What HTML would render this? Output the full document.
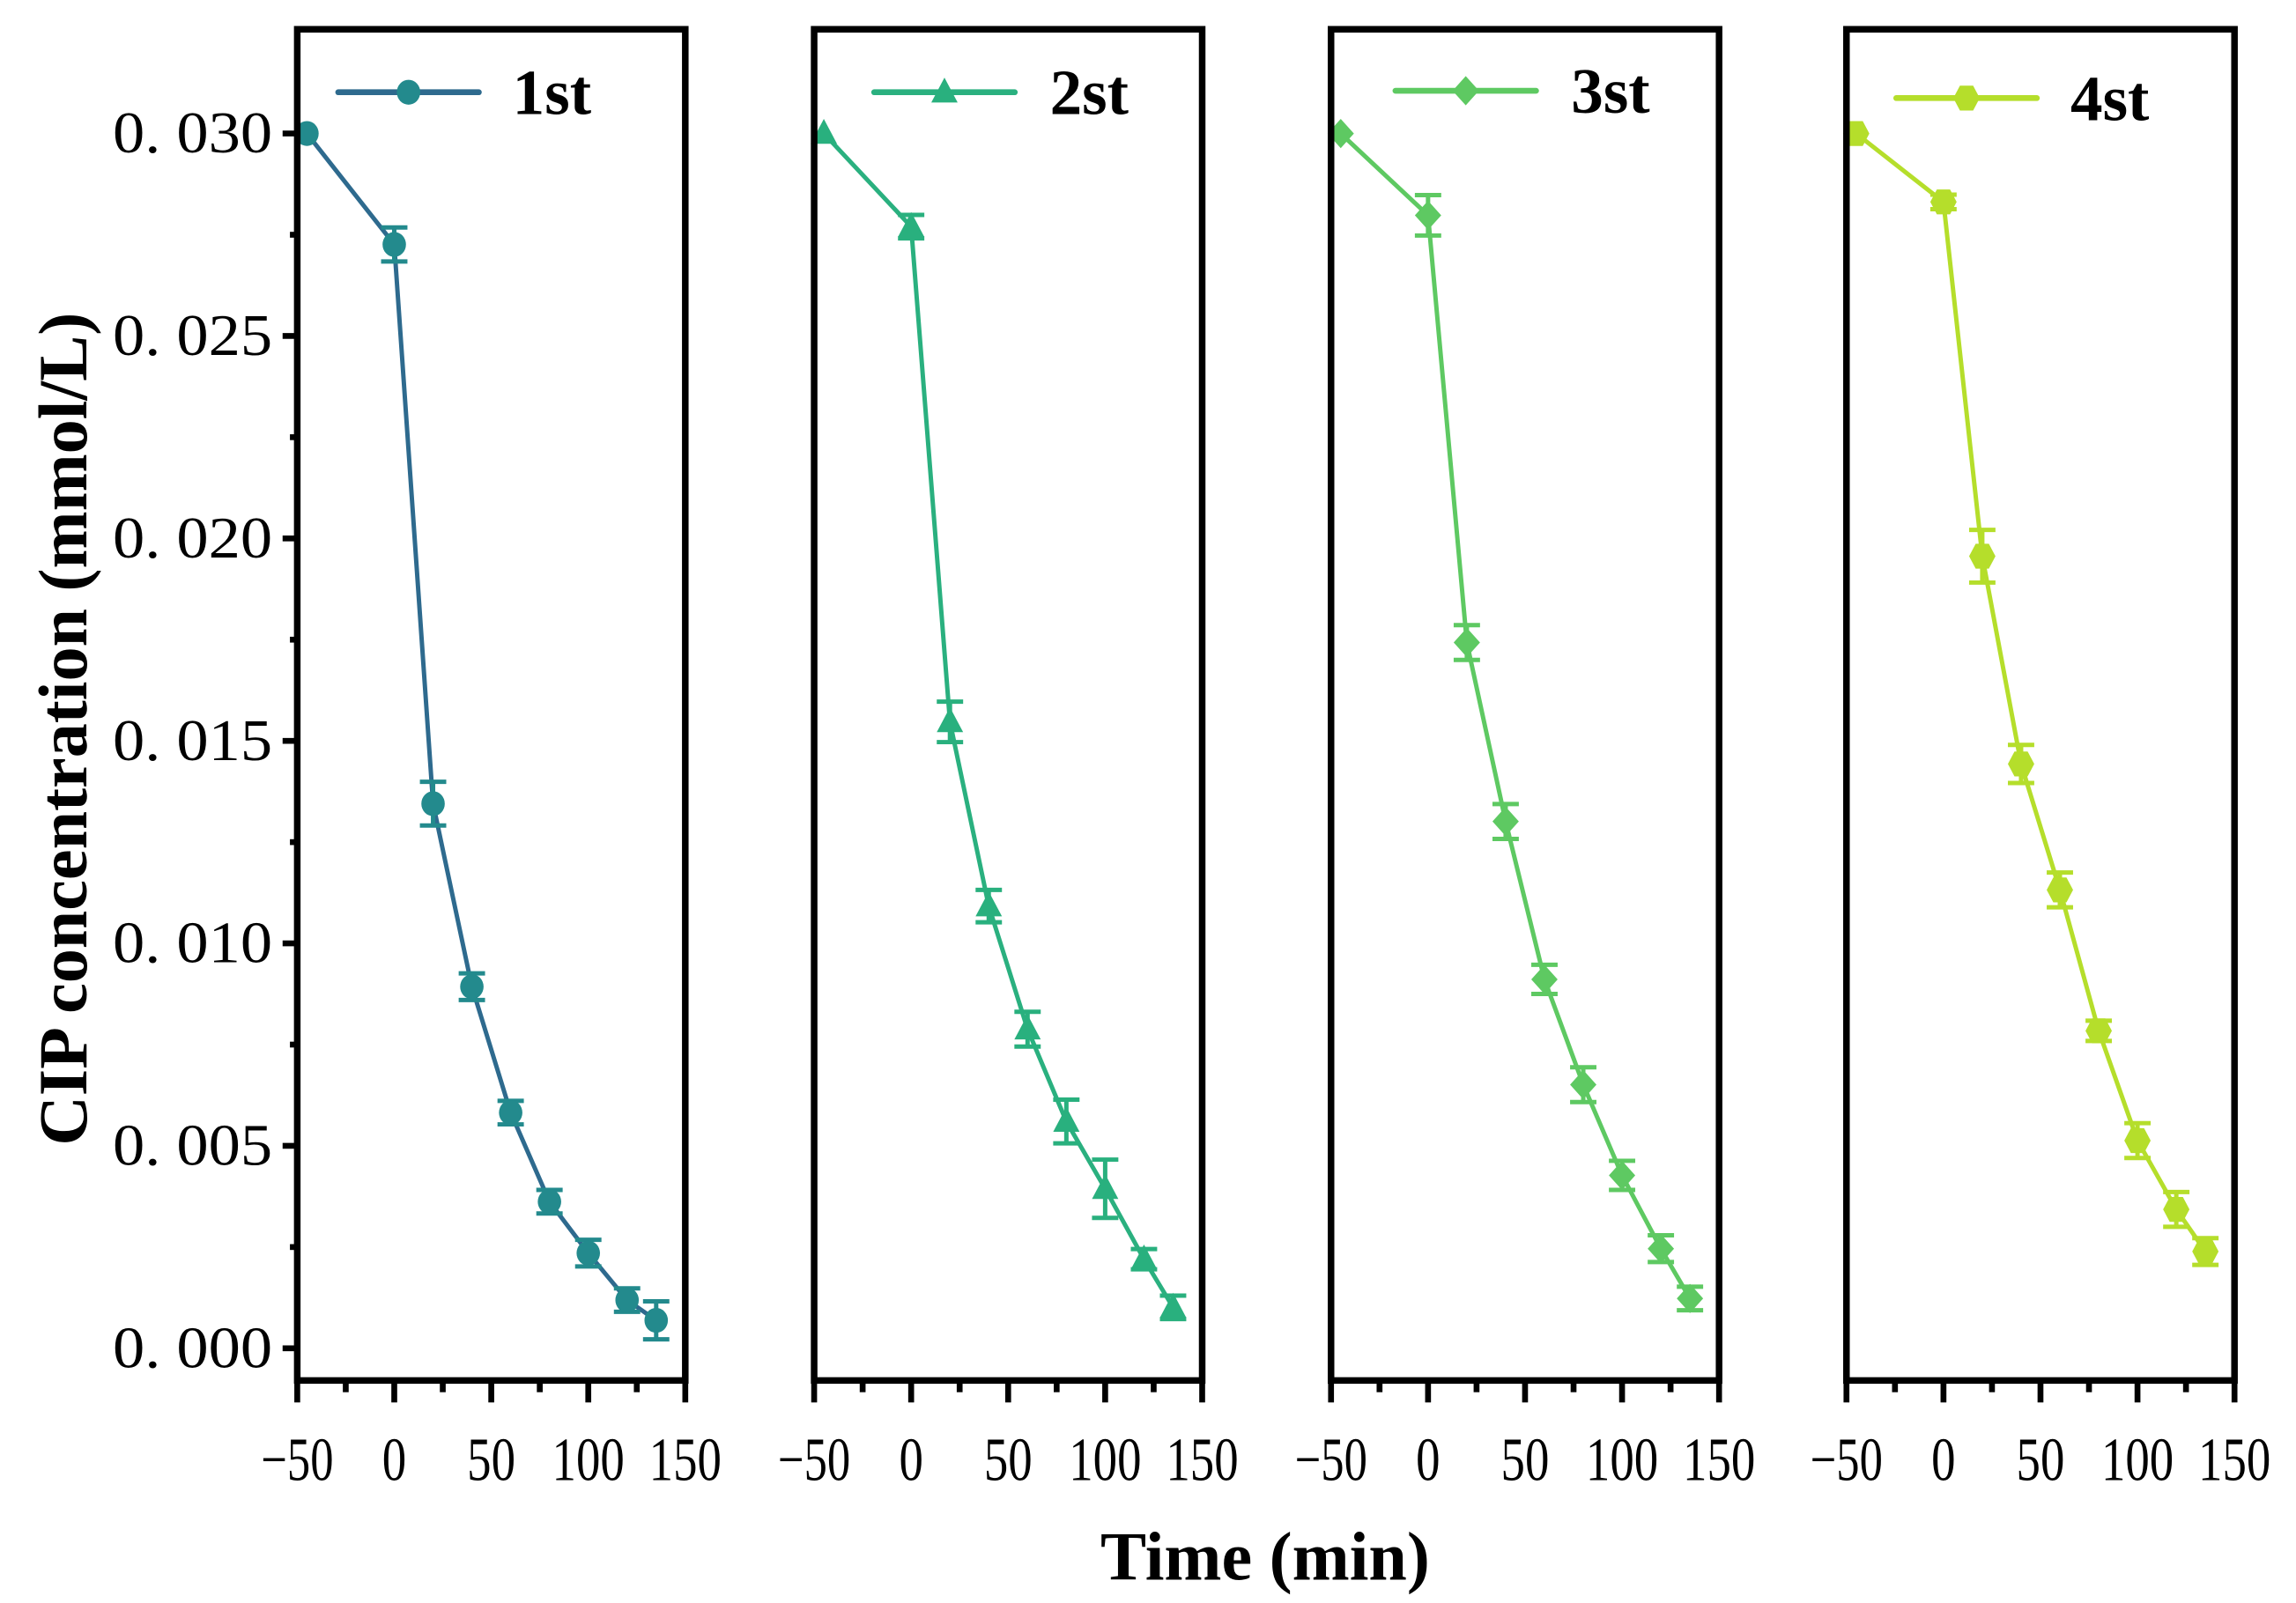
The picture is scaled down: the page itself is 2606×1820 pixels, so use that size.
<!DOCTYPE html>
<html><head><meta charset="utf-8"><style>
html,body{margin:0;padding:0;background:#fff}
svg{display:block}
</style></head><body>
<svg id="chart" width="2606" height="1820" viewBox="0 0 1568 1095" preserveAspectRatio="none" xmlns="http://www.w3.org/2000/svg">
<text transform="translate(59,498) rotate(-90)" text-anchor="middle" font-family="Liberation Serif, serif" font-weight="bold" font-size="47">CIP concentration (mmol/L)</text>
<text x="864" y="1079" text-anchor="middle" font-family="Liberation Serif, serif" font-weight="bold" font-size="47">Time (min)</text>
<g id="plots"></g>
</svg>
<script>
const times = [-45, 0, 20, 40, 60, 80, 100, 120, 135];
const labels = ["1st", "2st", "3st", "4st"];
const series1 = [0.030, 0.02726, 0.01345, 0.00893, 0.00582, 0.00362, 0.00235, 0.00119, 0.00069];
const series2 = [0.030, 0.0277, 0.01547, 0.01092, 0.00788, 0.0056, 0.00394, 0.0022, 0.00101];
const series3 = [0.030, 0.02798, 0.01743, 0.01301, 0.00911, 0.00651, 0.00427, 0.00246, 0.00123];
const series4 = [0.030, 0.02831, 0.01956, 0.01443, 0.01132, 0.00784, 0.00513, 0.00343, 0.00239];
const err1 = [0, 0.00042, 0.00054, 0.00033, 0.00029, 0.00029, 0.00033, 0.00029, 0.00047];
const err2 = [0, 0.00029, 0.0005, 0.0004, 0.00043, 0.00054, 0.00072, 0.00025, 0.00029];
const err3 = [0, 0.0005, 0.00043, 0.00043, 0.00036, 0.00043, 0.00036, 0.00033, 0.00029];
const err4 = [0, 0.00018, 0.00065, 0.00047, 0.00043, 0.00025, 0.00043, 0.00043, 0.00033];
const yTicks = [0, 0.005, 0.010, 0.015, 0.020, 0.025, 0.030];
const yTickLabels = ["0. 000","0. 005","0. 010","0. 015","0. 020","0. 025","0. 030"];
const xTicks = [-50, 0, 50, 100, 150];
const xTickLabels = ["\u221250","0","50","100","150"];

const allSeries = [series1, series2, series3, series4];
const allErr = [err1, err2, err3, err4];
const lineColors = ["#2e6a8e", "#2ab07f", "#5ec962", "#b5de2b"];
const markColors = ["#238a8d", "#29b07e", "#5ec962", "#b5de2b"];
const markers = ["circle", "triangle", "diamond", "hexagon"];
const panelLeft = [203, 556, 909, 1261];
const panelW = 265, topY = 20, bottomY = 943;
const legendY = [63, 63, 62, 67];
const legendLineOff = [28, 41, 44, 34];
const legendTextOff = [147, 161, 164, 153];
const NS = "http://www.w3.org/2000/svg";
const plotsG = document.getElementById("plots");

function yScale(v){ return 921 - v / 0.005 * 138.3; }
function mk(tag, attrs, parent){ const e = document.createElementNS(NS, tag); for (const k in attrs) e.setAttribute(k, attrs[k]); (parent||plotsG).appendChild(e); return e; }
function marker(type, cx, cy, color, parent){
  let e;
  if (type === "circle") e = mk("ellipse", {cx, cy, rx:8, ry:8.5, fill:color}, parent);
  else if (type === "triangle") e = mk("polygon", {points:`${cx},${cy-10} ${cx+9},${cy+7} ${cx-9},${cy+7}`, fill:color}, parent);
  else if (type === "diamond") e = mk("polygon", {points:`${cx},${cy-10} ${cx+9},${cy} ${cx},${cy+10} ${cx-9},${cy}`, fill:color}, parent);
  else e = mk("polygon", {points:`${cx-4.5},${cy-8.5} ${cx+4.5},${cy-8.5} ${cx+9},${cy} ${cx+4.5},${cy+8.5} ${cx-4.5},${cy+8.5} ${cx-9},${cy}`, fill:color}, parent);
  return e;
}

allSeries.forEach((s, p) => {
  const L = panelLeft[p];
  const xScale = t => L + (t + 50) / 200 * panelW;
  const pg = mk("g", {});
  
  
  for (let t = -50; t <= 150; t += 25) {
    const major = t % 50 === 0;
    const tk = mk("line", {x1:xScale(t), x2:xScale(t), y1:bottomY, y2:bottomY + (major?15:8), stroke:"#000", "stroke-width":4}, pg);
    
    
  }
  xTicks.forEach((t, i) => {
    const tx = mk("text", {x:xScale(t), y:1011, "text-anchor":"middle", "font-family":"Liberation Serif, serif", "font-size":42, textLength: xTickLabels[i].length*16.5, lengthAdjust:"spacingAndGlyphs"}, pg);
    tx.textContent = xTickLabels[i];
    
    
  });
  if (p === 0) {
    for (let k = 0; k <= 12; k++) {
      const v = k * 0.0025;
      const major = k % 2 === 0;
      const tk = mk("line", {x1:L - (major?10:5), x2:L, y1:yScale(v), y2:yScale(v), stroke:"#000", "stroke-width":4}, pg);
      
      
    }
    yTicks.forEach((v, i) => {
      const tx = mk("text", {x:186, y:yScale(v)+13, "text-anchor":"end", "font-family":"Liberation Serif, serif", "font-size":40, textLength:109, lengthAdjust:"spacingAndGlyphs"}, pg);
      tx.textContent = yTickLabels[i];
      
      
    });
  }
  const pts = times.map((t, i) => xScale(t) + "," + yScale(s[i])).join(" ");
  const ln = mk("polyline", {points:pts, fill:"none", stroke:lineColors[p], "stroke-width":3}, pg);
  
  
  times.forEach((t, i) => {
    const cx = xScale(t), e = allErr[p][i];
    if (e > 0) {
      const y1 = yScale(s[i] + e), y2 = yScale(s[i] - e);
      const eb = mk("path", {d:`M${cx},${y1}V${y2}M${cx-9},${y1}H${cx+9}M${cx-9},${y2}H${cx+9}`, stroke:markColors[p], "stroke-width":3, fill:"none"}, pg);
      
      
    }
    const m = marker(markers[p], cx, yScale(s[i]), markColors[p], pg);
    
    
  });
  const fr = mk("rect", {x:L, y:topY, width:panelW, height:bottomY-topY, fill:"none", stroke:"#000", "stroke-width":4.5}, pg);
  
  
  const lg = mk("g", {}, pg);
  
  
  const ly = legendY[p], lx = L + legendLineOff[p];
  mk("line", {x1:lx, x2:lx+96, y1:ly, y2:ly, stroke:lineColors[p], "stroke-width":4, "stroke-linecap":"round"}, lg);
  marker(markers[p], lx+48, ly, markColors[p], lg);
  const lt = mk("text", {x:L+legendTextOff[p], y:ly+15, "font-family":"Liberation Serif, serif", "font-weight":"bold", "font-size":44}, lg);
  lt.textContent = labels[p];
});
</script>
</body></html>
